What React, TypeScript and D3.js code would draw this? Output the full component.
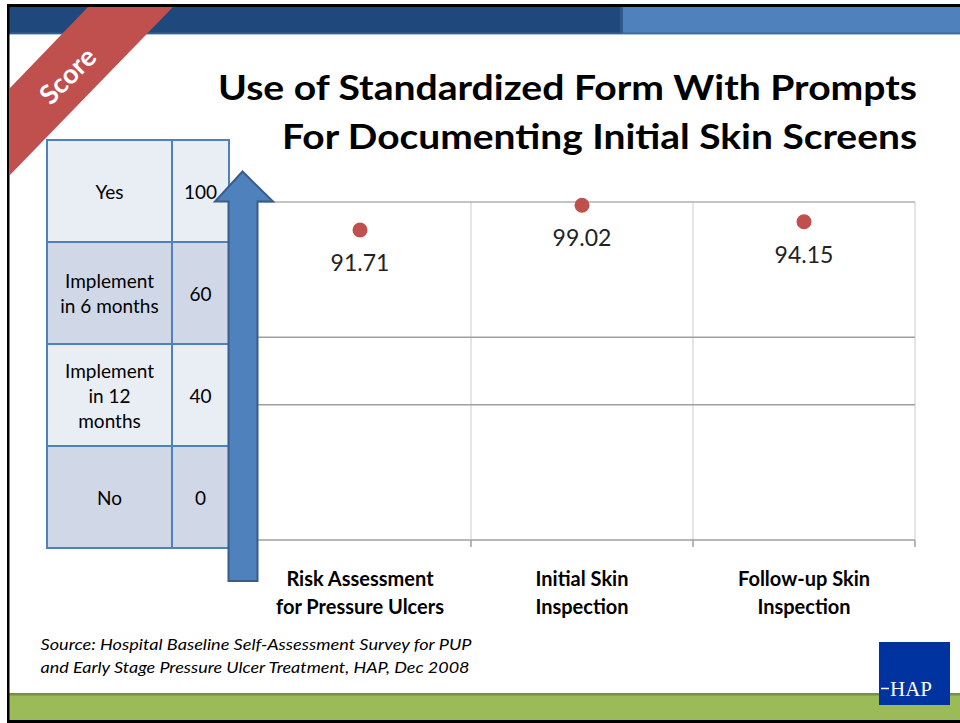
import React from "react";
import * as d3 from "d3";

// ---- data ----
const categoryLines: string[][] = [
  ["Risk Assessment", "for Pressure Ulcers"],
  ["Initial Skin", "Inspection"],
  ["Follow-up Skin", "Inspection"],
];
const categoryKeys = ["risk", "initial", "followup"];
const scoreValues = [91.71, 99.02, 94.15];

const scaleLabels: string[][] = [["Yes"], ["Implement", "in 6 months"], ["Implement", "in 12", "months"], ["No"]];
const scalePoints = [100, 60, 40, 0];

const titleLines = ["Use of Standardized Form With Prompts", "For Documenting Initial Skin Screens"];
const sourceLines = [
  "Source: Hospital Baseline Self-Assessment Survey for PUP",
  "and Early Stage Pressure Ulcer Treatment, HAP, Dec 2008",
];

const FONT = "Lato, 'Open Sans', 'DejaVu Sans', sans-serif";

export default function App() {
  const W = 960;
  const H = 723;
  const plotLeft = 249;
  const plotRight = 915;
  const plotTop = 202;
  const plotBottom = 540;

  const x = d3.scaleBand<string>().domain(categoryKeys).range([plotLeft, plotRight]).padding(0);
  const y = d3.scaleLinear().domain([0, 100]).range([plotBottom, plotTop]);

  // table geometry
  const tLeft = 47;
  const tMid = 172;
  const tRight = 229;
  const tTop = 140;
  const rowH = 102;
  const rowFills = ["#E9EDF4", "#D0D8E8", "#E9EDF4", "#D0D8E8"];

  const bandEdges = categoryKeys.map((k) => (x(k) as number) + x.bandwidth());

  return (
    <svg
      width={W}
      height={H}
      viewBox={`0 0 ${W} ${H}`}
      style={{ position: "fixed", left: 0, top: 0, background: "#fff" }}
    >
      {/* slide frame */}
      <rect x={0} y={0} width={W} height={H} fill="#fff" />
      {/* top bands */}
      <rect x={9} y={7} width={613} height={27} fill="#1F497D" />
      <rect x={622} y={7} width={W - 622} height={27} fill="#4F81BD" />
      <rect x={620} y={7} width={3} height={27} fill="#2F5A8E" />
      <rect x={9} y={32.5} width={W - 9} height={2} fill="#3A6698" opacity={0.8} />
      {/* bottom green band */}
      <rect x={9} y={693} width={W - 9} height={27} fill="#9BBB59" />
      <rect x={9} y={693} width={W - 9} height={2.5} fill="#76923C" />
      {/* black border */}
      <rect x={7} y={4} width={W - 7} height={3} fill="#000" />
      <rect x={7} y={4} width={2.5} height={H - 4} fill="#000" />
      <rect x={7} y={720} width={W - 7} height={3} fill="#000" />

      {/* red Score ribbon */}
      <polygon points="88,7 173,7 9,176 9,89" fill="#C0504D" />
      <text
        x={67}
        y={75}
        transform="rotate(-45 67 75)"
        textAnchor="middle"
        dominantBaseline="central"
        fill="#fff"
        fontFamily={FONT}
        fontWeight={700}
        fontSize={27}
      >
        Score
      </text>

      {/* title */}
      {titleLines.map((t, i) => (
        <text
          key={t}
          x={917}
          y={100 + i * 49}
          textAnchor="end"
          fontFamily={FONT}
          fontWeight={700}
          fontSize={35}
          fill="#000"
          textLength={i === 0 ? 699 : 635}
          lengthAdjust="spacingAndGlyphs"
        >
          {t}
        </text>
      ))}

      {/* score table */}
      {scaleLabels.map((lines, i) => {
        const top = tTop + i * rowH;
        const cy = top + rowH / 2;
        const lh = 25;
        return (
          <g key={i}>
            <rect x={tLeft} y={top} width={tRight - tLeft} height={rowH} fill={rowFills[i]} />
            {lines.map((ln, j) => (
              <text
                key={j}
                x={(tLeft + tMid) / 2}
                y={cy + (j - (lines.length - 1) / 2) * lh}
                textAnchor="middle"
                dominantBaseline="central"
                fontFamily={FONT}
                fontSize={19}
                fill="#000"
              >
                {ln}
              </text>
            ))}
            <text
              x={(tMid + tRight) / 2}
              y={cy}
              textAnchor="middle"
              dominantBaseline="central"
              fontFamily={FONT}
              fontSize={19}
              fill="#000"
            >
              {scalePoints[i]}
            </text>
          </g>
        );
      })}
      <g stroke="#4F81BD" strokeWidth={2} fill="none">
        <rect x={tLeft} y={tTop} width={tRight - tLeft} height={rowH * 4} />
        <line x1={tMid} x2={tMid} y1={tTop} y2={tTop + rowH * 4} />
        {[1, 2, 3].map((i) => (
          <line key={i} x1={tLeft} x2={tRight} y1={tTop + i * rowH} y2={tTop + i * rowH} />
        ))}
      </g>

      {/* plot grid */}
      <g>
        {[plotLeft, ...bandEdges].map((vx, i) => (
          <line key={"v" + i} x1={vx} x2={vx} y1={plotTop} y2={plotBottom} stroke="#D4D4D4" strokeWidth={1.2} />
        ))}
        {scalePoints.map((v) => (
          <line
            key={"h" + v}
            x1={plotLeft}
            x2={plotRight}
            y1={y(v)}
            y2={y(v)}
            stroke={v === 100 ? "#B0B0B0" : "#A0A0A0"}
            strokeWidth={1.5}
          />
        ))}
        {bandEdges.map((vx, i) => (
          <line key={"t" + i} x1={vx} x2={vx} y1={plotBottom} y2={plotBottom + 7} stroke="#A0A0A0" strokeWidth={1.5} />
        ))}
      </g>

      {/* points and labels */}
      {categoryKeys.map((k, i) => {
        const cx = (x(k) as number) + x.bandwidth() / 2;
        const cy = y(scoreValues[i]);
        return (
          <g key={k}>
            <circle cx={cx} cy={cy} r={7.5} fill="#C0504D" />
            <text
              x={cx}
              y={cy + 41}
              textAnchor="middle"
              fontFamily={FONT}
              fontSize={23}
              fill="#222"
            >
              {scoreValues[i].toFixed(2)}
            </text>
          </g>
        );
      })}

      {/* x category labels */}
      {categoryKeys.map((k, i) => {
        const cx = (x(k) as number) + x.bandwidth() / 2;
        return (
          <g key={"c" + k}>
            {categoryLines[i].map((ln, j) => (
              <text
                key={j}
                x={cx}
                y={578 + j * 28}
                textAnchor="middle"
                dominantBaseline="central"
                fontFamily={FONT}
                fontWeight={700}
                fontSize={20}
                fill="#000"
              >
                {ln}
              </text>
            ))}
          </g>
        );
      })}

      {/* arrow */}
      <polygon
        points="228.5,201.5 215,201.5 242.5,171.5 273,201.5 257.5,201.5 257.5,581 228.5,581"
        fill="#4F81BD"
        stroke="#385D8A"
        strokeWidth={2}
        strokeLinejoin="miter"
      />

      {/* source */}
      {sourceLines.map((t, i) => (
        <text
          key={t}
          x={40.5}
          y={650 + i * 23}
          fontFamily={FONT}
          fontStyle="italic"
          fontSize={16}
          fill="#000"
          textLength={i === 0 ? 431 : 429}
          lengthAdjust="spacingAndGlyphs"
        >
          {t}
        </text>
      ))}

      {/* HAP logo */}
      <rect x={879} y={642} width={71} height={63} fill="#0033A0" />
      <line x1={881} x2={889} y1={688.5} y2={688.5} stroke="#fff" strokeWidth={1.5} />
      <text
        x={911}
        y={696}
        textAnchor="middle"
        fontFamily="'Liberation Serif', 'DejaVu Serif', serif"
        fontSize={21}
        fill="#fff"
      >
        HAP
      </text>
    </svg>
  );
}
